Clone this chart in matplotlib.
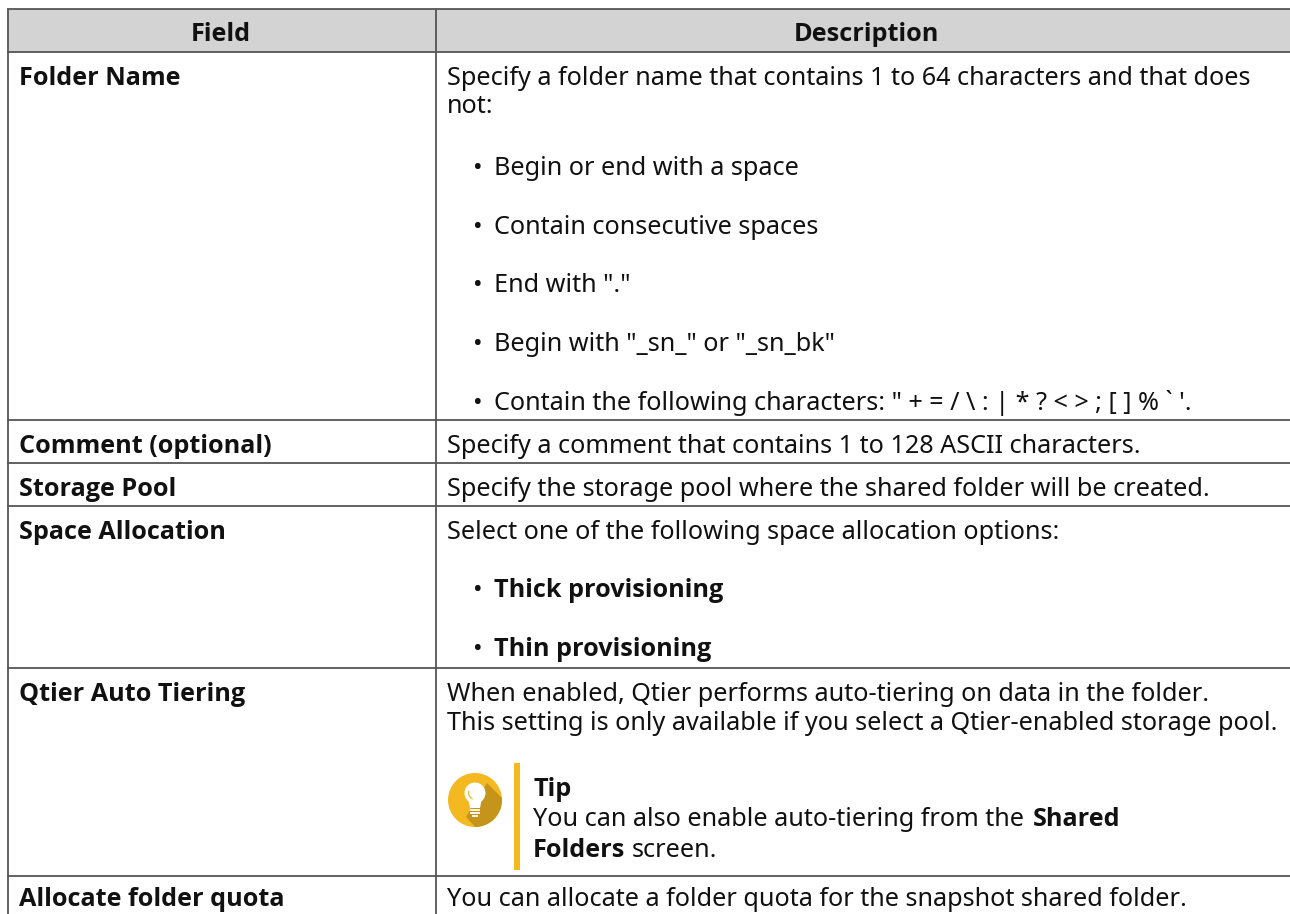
import matplotlib
matplotlib.use('Agg')
import matplotlib.pyplot as plt
from matplotlib.patches import Circle, Polygon, Rectangle, Wedge

plt.rcParams['font.family'] = ['Noto Sans', 'DejaVu Sans']

W, H = 1290, 914
FS = 18.16
LINE = '#555555'
BOLD_FONT = ['Open Sans', 'Noto Sans', 'DejaVu Sans']

headers = ['Field', 'Description']

field_names = ['Folder Name', 'Comment (optional)', 'Storage Pool', 'Space Allocation',
               'Qtier Auto Tiering', 'Allocate folder quota']
field_y = [85, 453, 496, 539, 701, 906]

# text, baseline y
desc_lines = [
    ('Specify a folder name that contains 1 to 64 characters and that does', 85),
    ('not:', 113),
    ('Specify a comment that contains 1 to 128 ASCII characters.', 453),
    ('Specify the storage pool where the shared folder will be created.', 496),
    ('Select one of the following space allocation options:', 539),
    ('When enabled, Qtier performs auto-tiering on data in the folder.', 701),
    ('This setting is only available if you select a Qtier-enabled storage pool.', 730),
    ('You can allocate a folder quota for the snapshot shared folder.', 906),
]

bullets = [
    ('Begin or end with a space', 175, 'normal'),
    ('Contain consecutive spaces', 234, 'normal'),
    ('End with "."', 292, 'normal'),
    ('Begin with "_sn_" or "_sn_bk"', 351, 'normal'),
    ("Contain the following characters: \" + = / \\ : | * ? < > ; [ ] % ` '.", 410, 'normal'),
    ('Thick provisioning', 597, 'bold'),
    ('Thin provisioning', 656, 'bold'),
]

row_lines_y = [9, 52, 420, 463, 506, 668, 875.5]


def put(ax, x, y, s, **kw):
    kw.setdefault('fontsize', FS)
    kw.setdefault('color', '#111111')
    if kw.get('fontweight') == 'bold':
        kw['family'] = BOLD_FONT
    return ax.text(x, y, s, va='baseline', parse_math=False, **kw)


def put_runs(ax, x, y, runs):
    # mixed normal / bold text on one line
    r = ax.figure.canvas.get_renderer()
    for s, weight in runs:
        t = put(ax, x, y, s, fontweight=weight)
        x += t.get_window_extent(r).width
    return x


fig = plt.figure(figsize=(W / 100, H / 100), dpi=100)
ax = fig.add_axes([0, 0, 1, 1])
ax.set_xlim(0, W)
ax.set_ylim(H, 0)
ax.axis('off')

ax.add_patch(Rectangle((7, 9), W - 7, 43, fc='#d3d3d3', ec='none', zorder=0))
for y in row_lines_y:
    ax.plot([7, W], [y, y], color=LINE, lw=1.3, solid_capstyle='butt')
for x in [7.5, 435.7]:
    ax.plot([x, x], [9, H], color=LINE, lw=1.3, solid_capstyle='butt')

put(ax, 221, 41, headers[0], fontweight='bold', ha='center')
put(ax, 866, 41, headers[1], fontweight='bold', ha='center')

for name, y in zip(field_names, field_y):
    put(ax, 19, y, name, fontweight='bold')
for s, y in desc_lines:
    put(ax, 447, y, s)
for s, y, weight in bullets:
    put(ax, 473, y, '\u2022', fontsize=FS)
    put(ax, 494, y, s, fontweight=weight)

# tip icon
circle = Circle((475, 800), 27, fc='#f4b820', ec='none')
ax.add_patch(circle)
shadow = Polygon([(487, 783), (505, 801), (505, 830), (478, 830), (466, 817)], fc='#c4951a', ec='none')
ax.add_patch(shadow)
shadow.set_clip_path(circle)
ax.add_patch(Circle((475, 793), 10.5, fc='white', ec='none'))
ax.add_patch(Polygon([(468, 798), (482, 798), (480, 808), (470, 808)], fc='white', ec='none'))
for y, half in [(809.5, 5), (812.5, 5), (815.5, 3)]:
    ax.plot([475 - half, 475 + half], [y, y], color='white', lw=1.3, solid_capstyle='butt')
ax.add_patch(Wedge((475, 793), 7, 110, 200, width=1.2, fc='#f4b820', ec='none'))
ax.add_patch(Rectangle((514, 763), 5.5, 107, fc='#f4b820', ec='none'))

fig.canvas.draw()
put(ax, 533, 796, 'Tip', fontweight='bold')
put(ax, 533, 826, 'You can also enable auto-tiering from the')
put(ax, 1033, 826, 'Shared', fontweight='bold')
x_end = put_runs(ax, 533, 857, [('Folders', 'bold')])
put(ax, x_end + 6, 857, 'screen.')

fig.savefig('out.png', dpi=100)
